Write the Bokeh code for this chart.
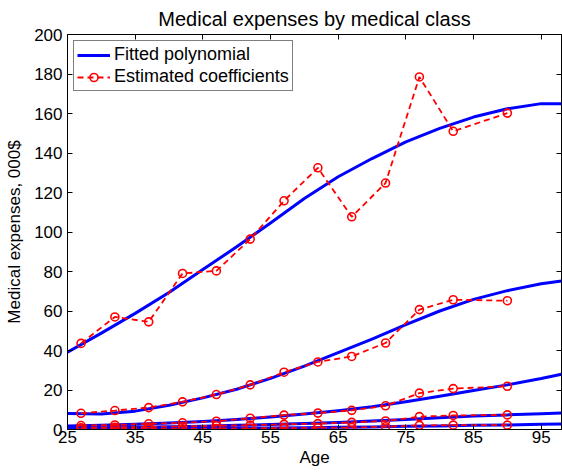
from bokeh.plotting import figure
from bokeh.models import Range1d, FixedTicker, LinearAxis, Legend, LegendItem
from bokeh.embed import file_html
from bokeh.resources import INLINE

# Ages at which the fitted polynomials are evaluated
ages_fit = [25, 30, 35, 40, 45, 50, 55, 60, 65, 70, 75, 80, 85, 90, 95, 98]

# Fitted polynomial per medical class (000$)
fit_class1 = [39.2, 48.8, 58.8, 69.4, 81.0, 92.5, 104.6, 117.0, 128.0, 137.2, 145.6, 152.5, 158.2, 162.4, 165.0, 165.0]
fit_class2 = [8.1, 7.8, 9.3, 12.3, 16.0, 20.4, 25.9, 32.1, 38.9, 45.8, 53.1, 60.0, 65.9, 70.3, 73.8, 75.2]
fit_class3 = [1.8, 2.2, 2.7, 3.3, 4.1, 5.1, 6.3, 7.8, 9.5, 11.5, 14.0, 16.8, 19.7, 22.6, 25.8, 28.0]
fit_class4 = [0.7, 0.9, 1.1, 1.4, 1.7, 2.1, 2.5, 3.0, 3.6, 4.3, 5.1, 6.0, 6.8, 7.4, 8.0, 8.4]
fit_class5 = [0.15, 0.2, 0.3, 0.4, 0.5, 0.6, 0.75, 0.9, 1.1, 1.3, 1.6, 1.8, 2.1, 2.3, 2.6, 2.8]

# Age-group midpoints of the estimated coefficients
ages_est = [27, 32, 37, 42, 47, 52, 57, 62, 67, 72, 77, 82, 90]

# Estimated coefficients per medical class (000$)
est_class1 = [43.6, 57.0, 54.5, 79.0, 80.3, 96.4, 115.8, 132.5, 107.7, 124.8, 178.5, 151.0, 160.2]
est_class2 = [8.2, 9.6, 11.1, 14.0, 17.7, 22.6, 29.0, 34.2, 37.0, 43.8, 60.7, 65.7, 65.2]
est_class3 = [2.0, 2.3, 2.9, 3.4, 4.2, 5.7, 7.3, 8.3, 9.7, 12.0, 18.4, 20.7, 21.9]
est_class4 = [0.9, 1.1, 1.3, 1.6, 1.9, 2.2, 2.6, 3.0, 3.6, 4.3, 6.5, 7.1, 7.4]
est_class5 = [0.2, 0.25, 0.3, 0.4, 0.5, 0.6, 0.7, 0.9, 1.0, 1.4, 2.1, 2.2, 2.2]

x_ticks = [25, 35, 45, 55, 65, 75, 85, 95]
y_ticks = [0, 20, 40, 60, 80, 100, 120, 140, 160, 180, 200]

FONT = "Liberation Sans"
BLUE = "#0000ff"
RED = "#ff0000"

p = figure(width=562, height=472, output_backend="svg", toolbar_location=None,
           x_range=Range1d(25, 98), y_range=Range1d(0, 200),
           min_border_left=67, min_border_right=1,
           min_border_top=34, min_border_bottom=43,
           title="Medical expenses by medical class")

p.title.text_font = FONT
p.title.text_font_size = "20px"
p.title.text_font_style = "normal"
p.title.text_color = "black"
p.title.align = "center"
p.title.standoff = 10

p.grid.visible = False
p.background_fill_color = "white"
p.border_fill_color = "white"
p.outline_line_color = "black"
p.outline_line_width = 1


def style_axis(ax, ticks):
    ax.ticker = FixedTicker(ticks=ticks)
    ax.major_tick_in = 5
    ax.major_tick_out = 0
    ax.minor_tick_line_color = None
    ax.axis_line_color = "black"
    ax.major_tick_line_color = "black"
    ax.major_label_text_font = FONT
    ax.major_label_text_font_size = "17px"
    ax.major_label_text_color = "black"
    ax.axis_label_text_font = FONT
    ax.axis_label_text_font_size = "17px"
    ax.axis_label_text_font_style = "normal"
    ax.axis_label_text_color = "black"


xa = p.xaxis[0]
style_axis(xa, x_ticks)
xa.axis_label = "Age"
xa.major_label_standoff = 1
xa.axis_label_standoff = 2

ya = p.yaxis[0]
style_axis(ya, y_ticks)
ya.axis_label = "Medical expenses, 000$"
ya.major_label_standoff = 5
ya.axis_label_standoff = 7

# Tick marks on the top and right edges of the box
for side, ticks in (("above", x_ticks), ("right", y_ticks)):
    ax = LinearAxis()
    style_axis(ax, ticks)
    ax.major_label_overrides = {t: "" for t in ticks}
    ax.major_label_text_font_size = "0px"
    ax.major_label_standoff = 0
    p.add_layout(ax, side)

fits = [fit_class1, fit_class2, fit_class3, fit_class4, fit_class5]
ests = [est_class1, est_class2, est_class3, est_class4, est_class5]

fit_renderers = []
for fit in fits:
    fit_renderers.append(p.line(ages_fit, fit, line_color=BLUE, line_width=3,
                                line_join="round"))

est_lines = []
est_marks = []
for est in ests:
    est_lines.append(p.line(ages_est, est, line_color=RED, line_width=1.8, line_dash="6 4"))
    est_marks.append(p.scatter(ages_est, est, marker="circle", size=8,
                               fill_color=None, line_color=RED, line_width=1.6))

legend = Legend(items=[
    LegendItem(label="Fitted polynomial", renderers=[fit_renderers[0]]),
    LegendItem(label="Estimated coefficients", renderers=[est_lines[0], est_marks[0]]),
])
legend.location = "top_left"
legend.margin = 6
legend.padding = 3
legend.spacing = 1
legend.glyph_width = 33
legend.glyph_height = 20
legend.label_height = 20
legend.label_standoff = 4
legend.label_text_font = FONT
legend.label_text_font_size = "18px"
legend.label_text_color = "black"
legend.border_line_color = "black"
legend.border_line_width = 1
legend.background_fill_color = "white"
legend.background_fill_alpha = 1.0
p.add_layout(legend)

open("out.html", "w").write(file_html(p, INLINE))
